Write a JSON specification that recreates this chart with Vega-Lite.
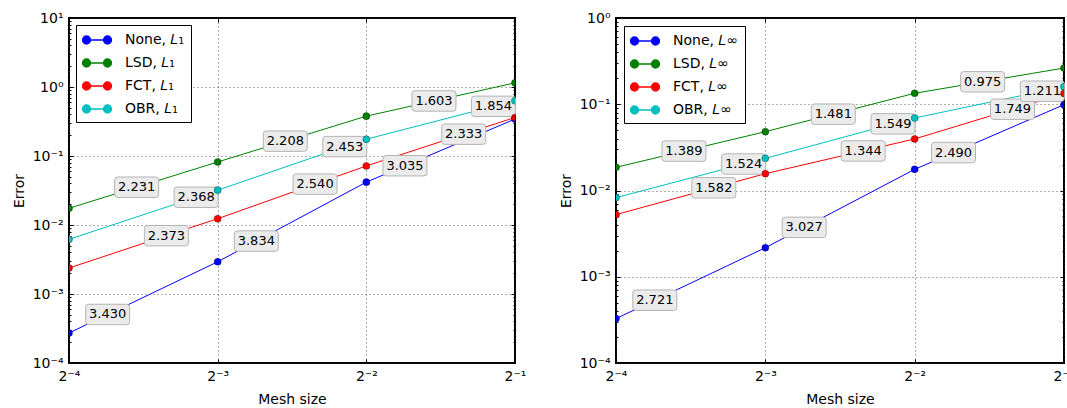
{
  "$schema": "https://vega.github.io/schema/vega-lite/v6.json",
  "padding": {"left": 11, "top": 10, "right": 0, "bottom": 0},
  "bounds": "flush",
  "spacing": 101,
  "resolve": {"scale": {"x": "independent", "y": "independent", "stroke": "independent", "fill": "independent"}, "legend": {"stroke": "independent", "fill": "independent"}},
  "datasets": {
    "l1": [
      {"method": "None, 𝐿₁", "h": 0.0625, "err": 0.000272},
      {"method": "None, 𝐿₁", "h": 0.125, "err": 0.00293},
      {"method": "None, 𝐿₁", "h": 0.25, "err": 0.0418},
      {"method": "None, 𝐿₁", "h": 0.5, "err": 0.343},
      {"method": "LSD, 𝐿₁", "h": 0.0625, "err": 0.01745},
      {"method": "LSD, 𝐿₁", "h": 0.125, "err": 0.0819},
      {"method": "LSD, 𝐿₁", "h": 0.25, "err": 0.378},
      {"method": "LSD, 𝐿₁", "h": 0.5, "err": 1.149},
      {"method": "FCT, 𝐿₁", "h": 0.0625, "err": 0.00238},
      {"method": "FCT, 𝐿₁", "h": 0.125, "err": 0.01234},
      {"method": "FCT, 𝐿₁", "h": 0.25, "err": 0.0718},
      {"method": "FCT, 𝐿₁", "h": 0.5, "err": 0.362},
      {"method": "OBR, 𝐿₁", "h": 0.0625, "err": 0.0062},
      {"method": "OBR, 𝐿₁", "h": 0.125, "err": 0.032},
      {"method": "OBR, 𝐿₁", "h": 0.25, "err": 0.175},
      {"method": "OBR, 𝐿₁", "h": 0.5, "err": 0.632}
    ],
    "l1lab": [
      {"h": 0.07484, "err": 0.000505, "rate": "3.430"},
      {"h": 0.14969, "err": 0.00585, "rate": "3.834"},
      {"h": 0.29938, "err": 0.0723, "rate": "3.035"},
      {"h": 0.08568, "err": 0.03527, "rate": "2.231"},
      {"h": 0.17136, "err": 0.1642, "rate": "2.208"},
      {"h": 0.34273, "err": 0.627, "rate": "1.603"},
      {"h": 0.09841, "err": 0.006995, "rate": "2.373"},
      {"h": 0.19683, "err": 0.0391, "rate": "2.540"},
      {"h": 0.39365, "err": 0.2072, "rate": "2.333"},
      {"h": 0.11305, "err": 0.02522, "rate": "2.368"},
      {"h": 0.2261, "err": 0.1368, "rate": "2.453"},
      {"h": 0.4522, "err": 0.5246, "rate": "1.854"}
    ],
    "linf": [
      {"method": "None, 𝐿∞", "h": 0.0625, "err": 0.000327},
      {"method": "None, 𝐿∞", "h": 0.125, "err": 0.00217},
      {"method": "None, 𝐿∞", "h": 0.25, "err": 0.01758},
      {"method": "None, 𝐿∞", "h": 0.5, "err": 0.0989},
      {"method": "LSD, 𝐿∞", "h": 0.0625, "err": 0.01857},
      {"method": "LSD, 𝐿∞", "h": 0.125, "err": 0.0481},
      {"method": "LSD, 𝐿∞", "h": 0.25, "err": 0.134},
      {"method": "LSD, 𝐿∞", "h": 0.5, "err": 0.263},
      {"method": "FCT, 𝐿∞", "h": 0.0625, "err": 0.00525},
      {"method": "FCT, 𝐿∞", "h": 0.125, "err": 0.01567},
      {"method": "FCT, 𝐿∞", "h": 0.25, "err": 0.0396},
      {"method": "FCT, 𝐿∞", "h": 0.5, "err": 0.133},
      {"method": "OBR, 𝐿∞", "h": 0.0625, "err": 0.00826},
      {"method": "OBR, 𝐿∞", "h": 0.125, "err": 0.0236},
      {"method": "OBR, 𝐿∞", "h": 0.25, "err": 0.0693},
      {"method": "OBR, 𝐿∞", "h": 0.5, "err": 0.16}
    ],
    "linflab": [
      {"h": 0.07484, "err": 0.000535, "rate": "2.721"},
      {"h": 0.14969, "err": 0.003739, "rate": "3.027"},
      {"h": 0.29938, "err": 0.02755, "rate": "2.490"},
      {"h": 0.08568, "err": 0.02863, "rate": "1.389"},
      {"h": 0.17136, "err": 0.07667, "rate": "1.481"},
      {"h": 0.34273, "err": 0.1821, "rate": "0.975"},
      {"h": 0.09841, "err": 0.01075, "rate": "1.582"},
      {"h": 0.19683, "err": 0.02876, "rate": "1.344"},
      {"h": 0.39365, "err": 0.08757, "rate": "1.749"},
      {"h": 0.11305, "err": 0.02027, "rate": "1.524"},
      {"h": 0.2261, "err": 0.05928, "rate": "1.549"},
      {"h": 0.4522, "err": 0.1417, "rate": "1.211"}
    ]
  },
  "hconcat": [
    {
      "width": 446,
      "height": 345,
      "resolve": {"axis": {"x": "independent", "y": "independent"}},
      "layer": [
        {
          "data": {"name": "l1"},
          "mark": {"type": "line", "strokeWidth": 1, "clip": true},
          "encoding": {
            "x": {"field": "h", "type": "quantitative", "scale": {"type": "log", "base": 2, "domain": [0.0625, 0.5], "nice": false},
              "axis": {"orient": "bottom", "values": [0.0625, 0.125, 0.25, 0.5], "labelExpr": "datum.value == 0.0625 ? '2⁻⁴' : datum.value == 0.125 ? '2⁻³' : datum.value == 0.25 ? '2⁻²' : '2⁻¹'", "title": "Mesh size", "grid": true, "domain": false, "labelFlush": false, "labelOverlap": false, "labelPadding": 10, "titlePadding": 9}},
            "y": {"field": "err", "type": "quantitative", "scale": {"type": "log", "domain": [0.0001, 10], "nice": false},
              "axis": {"orient": "left", "values": [0.0001, 0.0002, 0.0003, 0.0004, 0.0005, 0.0006, 0.0007, 0.0008, 0.0009, 0.001, 0.002, 0.003, 0.004, 0.005, 0.006, 0.007, 0.008, 0.009, 0.01, 0.02, 0.03, 0.04, 0.05, 0.06, 0.07, 0.08, 0.09, 0.1, 0.2, 0.3, 0.4, 0.5, 0.6, 0.7, 0.8, 0.9, 1, 2, 3, 4, 5, 6, 7, 8, 9, 10],
                "labelExpr": "datum.value == 10 ? '10¹' : datum.value == 1 ? '10⁰' : datum.value == 0.1 ? '10⁻¹' : datum.value == 0.01 ? '10⁻²' : datum.value == 0.001 ? '10⁻³' : datum.value == 0.0001 ? '10⁻⁴' : ''",
                "tickSize": {"condition": {"test": "indexof([0.0001,0.001,0.01,0.1,1,10], datum.value) >= 0", "value": -4}, "value": -2},
                "gridOpacity": {"condition": {"test": "indexof([0.0001,0.001,0.01,0.1,1,10], datum.value) >= 0", "value": 1}, "value": 0},
                "title": "Error", "grid": true, "domain": false, "labelFlush": false, "labelOverlap": false, "labelPadding": 10, "titlePadding": 6}},
            "stroke": {"field": "method", "type": "nominal", "scale": {"domain": ["None, 𝐿₁", "LSD, 𝐿₁", "FCT, 𝐿₁", "OBR, 𝐿₁"], "range": ["#0000ff", "#008000", "#ff0000", "#00bfbf"]},
              "legend": {"title": null, "orient": "top-left", "offset": 7}}
          }
        },
        {
          "data": {"name": "l1lab"},
          "mark": {"type": "point", "shape": "M-0.86,-0.465L0.86,-0.465Q1,-0.465,1,-0.326L1,0.326Q1,0.465,0.86,0.465L-0.86,0.465Q-1,0.465,-1,0.326L-1,-0.326Q-1,-0.465,-0.86,-0.465Z", "size": 1936, "filled": true, "fill": "#ebebeb", "stroke": "#b4b4b4", "strokeWidth": 1, "opacity": 1},
          "encoding": {
            "x": {"field": "h", "type": "quantitative", "scale": {"type": "log", "base": 2, "domain": [0.0625, 0.5], "nice": false},
              "axis": {"orient": "top", "values": [0.0625, 0.125, 0.25, 0.5], "labels": false, "title": null, "grid": false, "domain": false}},
            "y": {"field": "err", "type": "quantitative", "scale": {"type": "log", "domain": [0.0001, 10], "nice": false},
              "axis": {"orient": "right", "values": [0.0001, 0.0002, 0.0003, 0.0004, 0.0005, 0.0006, 0.0007, 0.0008, 0.0009, 0.001, 0.002, 0.003, 0.004, 0.005, 0.006, 0.007, 0.008, 0.009, 0.01, 0.02, 0.03, 0.04, 0.05, 0.06, 0.07, 0.08, 0.09, 0.1, 0.2, 0.3, 0.4, 0.5, 0.6, 0.7, 0.8, 0.9, 1, 2, 3, 4, 5, 6, 7, 8, 9, 10],
                "tickSize": {"condition": {"test": "indexof([0.0001,0.001,0.01,0.1,1,10], datum.value) >= 0", "value": -4}, "value": -2},
                "labels": false, "title": null, "grid": false, "domain": false}}
          }
        },
        {
          "data": {"name": "l1lab"},
          "mark": {"type": "text", "fontSize": 13, "color": "#000", "baseline": "middle", "align": "center"},
          "encoding": {
            "x": {"field": "h", "type": "quantitative", "scale": {"type": "log", "base": 2, "domain": [0.0625, 0.5], "nice": false}, "axis": null},
            "y": {"field": "err", "type": "quantitative", "scale": {"type": "log", "domain": [0.0001, 10], "nice": false}, "axis": null},
            "text": {"field": "rate", "type": "nominal"}
          }
        },
        {
          "data": {"name": "l1"},
          "mark": {"type": "point", "filled": true, "size": 50, "opacity": 1, "clip": true},
          "encoding": {
            "x": {"field": "h", "type": "quantitative", "scale": {"type": "log", "base": 2, "domain": [0.0625, 0.5], "nice": false}, "axis": null},
            "y": {"field": "err", "type": "quantitative", "scale": {"type": "log", "domain": [0.0001, 10], "nice": false}, "axis": null},
            "fill": {"field": "method", "type": "nominal", "scale": {"domain": ["None, 𝐿₁", "LSD, 𝐿₁", "FCT, 𝐿₁", "OBR, 𝐿₁"], "range": ["#0000ff", "#008000", "#ff0000", "#00bfbf"]},
              "legend": {"title": null, "orient": "top-left", "offset": 7}}
          }
        },
        {
          "data": {"name": "l1"},
          "mark": {"type": "point", "filled": false, "size": 50, "stroke": "#000", "strokeWidth": 0.5, "opacity": 0.6, "clip": true},
          "encoding": {
            "x": {"field": "h", "type": "quantitative", "scale": {"type": "log", "base": 2, "domain": [0.0625, 0.5], "nice": false}, "axis": null},
            "y": {"field": "err", "type": "quantitative", "scale": {"type": "log", "domain": [0.0001, 10], "nice": false}, "axis": null}
          }
        }
      ]
    },
    {
      "width": 448,
      "height": 345,
      "resolve": {"axis": {"x": "independent", "y": "independent"}},
      "layer": [
        {
          "data": {"name": "linf"},
          "mark": {"type": "line", "strokeWidth": 1, "clip": true},
          "encoding": {
            "x": {"field": "h", "type": "quantitative", "scale": {"type": "log", "base": 2, "domain": [0.0625, 0.5], "nice": false},
              "axis": {"orient": "bottom", "values": [0.0625, 0.125, 0.25, 0.5], "labelExpr": "datum.value == 0.0625 ? '2⁻⁴' : datum.value == 0.125 ? '2⁻³' : datum.value == 0.25 ? '2⁻²' : '2⁻¹'", "title": "Mesh size", "grid": true, "domain": false, "labelFlush": false, "labelOverlap": false, "labelPadding": 10, "titlePadding": 9}},
            "y": {"field": "err", "type": "quantitative", "scale": {"type": "log", "domain": [0.0001, 1], "nice": false},
              "axis": {"orient": "left", "values": [0.0001, 0.0002, 0.0003, 0.0004, 0.0005, 0.0006, 0.0007, 0.0008, 0.0009, 0.001, 0.002, 0.003, 0.004, 0.005, 0.006, 0.007, 0.008, 0.009, 0.01, 0.02, 0.03, 0.04, 0.05, 0.06, 0.07, 0.08, 0.09, 0.1, 0.2, 0.3, 0.4, 0.5, 0.6, 0.7, 0.8, 0.9, 1],
                "labelExpr": "datum.value == 1 ? '10⁰' : datum.value == 0.1 ? '10⁻¹' : datum.value == 0.01 ? '10⁻²' : datum.value == 0.001 ? '10⁻³' : datum.value == 0.0001 ? '10⁻⁴' : ''",
                "tickSize": {"condition": {"test": "indexof([0.0001,0.001,0.01,0.1,1], datum.value) >= 0", "value": -4}, "value": -2},
                "gridOpacity": {"condition": {"test": "indexof([0.0001,0.001,0.01,0.1,1], datum.value) >= 0", "value": 1}, "value": 0},
                "title": "Error", "grid": true, "domain": false, "labelFlush": false, "labelOverlap": false, "labelPadding": 10, "titlePadding": 6}},
            "stroke": {"field": "method", "type": "nominal", "scale": {"domain": ["None, 𝐿∞", "LSD, 𝐿∞", "FCT, 𝐿∞", "OBR, 𝐿∞"], "range": ["#0000ff", "#008000", "#ff0000", "#00bfbf"]},
              "legend": {"title": null, "orient": "top-left", "offset": 8}}
          }
        },
        {
          "data": {"name": "linflab"},
          "mark": {"type": "point", "shape": "M-0.86,-0.465L0.86,-0.465Q1,-0.465,1,-0.326L1,0.326Q1,0.465,0.86,0.465L-0.86,0.465Q-1,0.465,-1,0.326L-1,-0.326Q-1,-0.465,-0.86,-0.465Z", "size": 1936, "filled": true, "fill": "#ebebeb", "stroke": "#b4b4b4", "strokeWidth": 1, "opacity": 1},
          "encoding": {
            "x": {"field": "h", "type": "quantitative", "scale": {"type": "log", "base": 2, "domain": [0.0625, 0.5], "nice": false},
              "axis": {"orient": "top", "values": [0.0625, 0.125, 0.25, 0.5], "labels": false, "title": null, "grid": false, "domain": false}},
            "y": {"field": "err", "type": "quantitative", "scale": {"type": "log", "domain": [0.0001, 1], "nice": false},
              "axis": {"orient": "right", "values": [0.0001, 0.0002, 0.0003, 0.0004, 0.0005, 0.0006, 0.0007, 0.0008, 0.0009, 0.001, 0.002, 0.003, 0.004, 0.005, 0.006, 0.007, 0.008, 0.009, 0.01, 0.02, 0.03, 0.04, 0.05, 0.06, 0.07, 0.08, 0.09, 0.1, 0.2, 0.3, 0.4, 0.5, 0.6, 0.7, 0.8, 0.9, 1],
                "tickSize": {"condition": {"test": "indexof([0.0001,0.001,0.01,0.1,1], datum.value) >= 0", "value": -4}, "value": -2},
                "labels": false, "title": null, "grid": false, "domain": false}}
          }
        },
        {
          "data": {"name": "linflab"},
          "mark": {"type": "text", "fontSize": 13, "color": "#000", "baseline": "middle", "align": "center"},
          "encoding": {
            "x": {"field": "h", "type": "quantitative", "scale": {"type": "log", "base": 2, "domain": [0.0625, 0.5], "nice": false}, "axis": null},
            "y": {"field": "err", "type": "quantitative", "scale": {"type": "log", "domain": [0.0001, 1], "nice": false}, "axis": null},
            "text": {"field": "rate", "type": "nominal"}
          }
        },
        {
          "data": {"name": "linf"},
          "mark": {"type": "point", "filled": true, "size": 50, "opacity": 1, "clip": true},
          "encoding": {
            "x": {"field": "h", "type": "quantitative", "scale": {"type": "log", "base": 2, "domain": [0.0625, 0.5], "nice": false}, "axis": null},
            "y": {"field": "err", "type": "quantitative", "scale": {"type": "log", "domain": [0.0001, 1], "nice": false}, "axis": null},
            "fill": {"field": "method", "type": "nominal", "scale": {"domain": ["None, 𝐿∞", "LSD, 𝐿∞", "FCT, 𝐿∞", "OBR, 𝐿∞"], "range": ["#0000ff", "#008000", "#ff0000", "#00bfbf"]},
              "legend": {"title": null, "orient": "top-left", "offset": 8}}
          }
        },
        {
          "data": {"name": "linf"},
          "mark": {"type": "point", "filled": false, "size": 50, "stroke": "#000", "strokeWidth": 0.5, "opacity": 0.6, "clip": true},
          "encoding": {
            "x": {"field": "h", "type": "quantitative", "scale": {"type": "log", "base": 2, "domain": [0.0625, 0.5], "nice": false}, "axis": null},
            "y": {"field": "err", "type": "quantitative", "scale": {"type": "log", "domain": [0.0001, 1], "nice": false}, "axis": null}
          }
        }
      ]
    }
  ],
  "config": {
    "font": "DejaVu Sans",
    "view": {"stroke": "#000", "strokeWidth": 2},
    "axis": {
      "labelFont": "DejaVu Sans", "labelFontSize": 14, "labelColor": "#000",
      "titleFont": "DejaVu Sans", "titleFontSize": 14, "titleFontWeight": "normal", "titleColor": "#000",
      "tickColor": "#000", "tickWidth": 1, "tickSize": -4,
      "gridColor": "#333", "gridWidth": 0.8, "gridDash": [1, 3]
    },
    "legend": {
      "symbolType": "M-1.3125,0L1.3125,0M-1.8125,0A0.5,0.5,0,1,1,-0.8125,0A0.5,0.5,0,1,1,-1.8125,0ZM0.8125,0A0.5,0.5,0,1,1,1.8125,0A0.5,0.5,0,1,1,0.8125,0Z",
      "symbolSize": 256, "symbolStrokeWidth": 1.3, "symbolOpacity": 1,
      "labelFont": "DejaVu Sans", "labelFontSize": 14, "labelColor": "#000", "labelOffset": 19, "labelLimit": 200,
      "padding": 6, "rowPadding": 7, "symbolOffset": 6,
      "strokeColor": "#000", "fillColor": "#fff", "cornerRadius": 0
    }
  }
}
